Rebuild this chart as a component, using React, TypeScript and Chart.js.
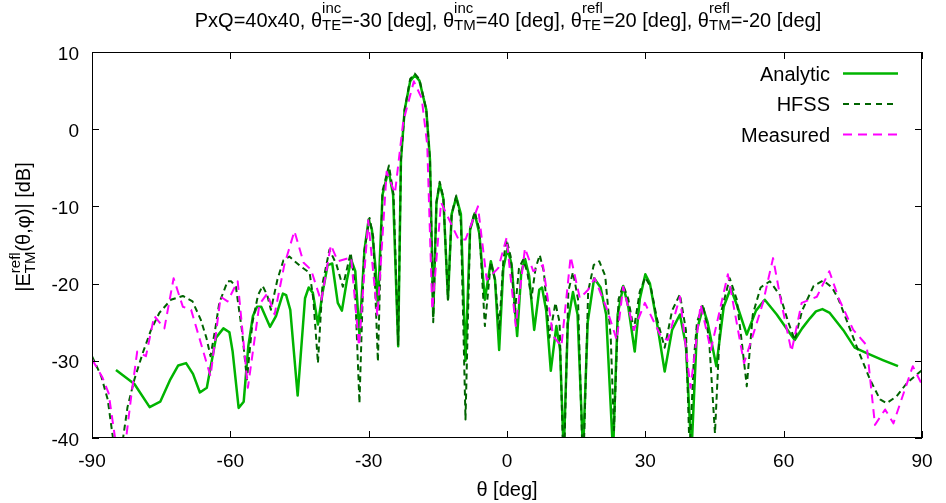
import React, { useEffect, useRef } from "react";
import { Chart, registerables } from "chart.js";
Chart.register(...registerables);

// ---------- data ----------
const analyticTheta = [-84.8,-80.8,-77.5,-75.2,-73.0,-71.3,-69.6,-68.1,-66.6,-65.1,-63.1,-61.5,-60.2,-59.5,-58.2,-57.1,-56.1,-55.1,-54.2,-53.3,-51.4,-50.1,-48.6,-47.9,-47.0,-45.4,-43.8,-43.0,-42.1,-41.0,-40.0,-38.9,-37.9,-36.7,-35.8,-34.7,-33.8,-32.9,-32.0,-30.9,-30.0,-29.3,-28.5,-28.0,-27.0,-25.7,-24.7,-23.6,-23.0,-22.2,-21.0,-20.0,-19.0,-17.5,-16.7,-16.0,-15.3,-14.6,-13.8,-12.8,-12.0,-11.0,-10.0,-9.0,-8.0,-7.0,-6.0,-4.8,-3.5,-2.6,-1.7,-0.8,0.1,1.0,2.2,3.1,3.9,4.8,5.9,7.0,7.6,8.5,9.5,10.7,11.5,12.3,13.2,14.3,15.3,16.5,17.5,18.9,20.3,21.5,23.0,24.0,25.2,26.3,27.7,28.8,30.0,31.0,32.5,34.2,35.8,37.5,38.8,40.0,41.2,42.5,43.5,45.4,47.0,48.5,50.0,52.0,54.0,55.9,58.5,61.3,62.4,64.0,65.7,67.0,68.4,70.0,72.9,75.4,78.0,81.5,84.8];
const analyticDb = [-31.2,-33.0,-36.0,-35.3,-32.4,-30.6,-30.3,-31.7,-34.1,-33.5,-27.0,-25.8,-26.3,-28.8,-36.1,-35.3,-28.1,-24.2,-23.0,-23.0,-25.6,-24.2,-21.3,-21.5,-23.4,-34.5,-21.9,-20.5,-21.2,-25.3,-21.2,-17.6,-17.4,-22.5,-23.5,-19.5,-16.9,-18.4,-26.6,-15.6,-11.7,-13.0,-18.0,-23.0,-8.5,-5.3,-8.5,-28.1,-4.0,2.5,6.2,7.0,6.3,2.5,-4.0,-24.2,-9.5,-7.1,-9.0,-22.0,-11.0,-8.8,-11.0,-30.0,-13.0,-10.9,-13.5,-22.1,-17.1,-19.5,-28.6,-18.0,-15.5,-17.5,-26.8,-18.5,-16.8,-19.0,-26.0,-20.8,-20.5,-23.5,-31.3,-25.5,-28.5,-42,-25,-21.1,-24,-42,-25,-19.3,-20.5,-24,-42,-24,-20.3,-23,-28.8,-22,-18.8,-20,-25,-31.4,-26,-24.0,-28,-42,-26,-23.1,-25,-30.7,-23,-20.6,-23,-26.6,-23.5,-22.1,-24,-26.4,-27.3,-25.8,-24.5,-23.6,-23.3,-23.8,-26.0,-28.3,-29.0,-29.9,-30.7];

const hfssTheta = [-90,-88.0,-86.6,-85.5,-84.5,-83.5,-82.3,-80.8,-79.0,-77.2,-75.4,-72.9,-70.3,-68.2,-66.4,-65.2,-64.3,-63.3,-62.4,-60.6,-59.8,-58.8,-57.5,-56.4,-55.2,-54.0,-53.0,-52.0,-51.2,-49.8,-48.5,-47.2,-44.7,-42.8,-42.0,-41.0,-40.0,-38.5,-37.0,-35.6,-33.9,-33.0,-32.0,-31.0,-29.8,-29.0,-28.0,-27.0,-25.6,-24.6,-23.6,-23.0,-22.2,-21.0,-20.0,-19.0,-17.5,-16.7,-16.0,-15.3,-14.6,-13.8,-12.8,-12.0,-11.0,-10.0,-9.0,-8.0,-7.0,-6.0,-4.8,-3.5,-2.6,-1.7,-0.8,-0.1,0.8,1.7,2.6,3.5,4.4,5.3,6.2,7.1,8.0,9.2,10.5,11.4,12.3,13.3,14.3,15.4,16.5,17.6,18.8,20.0,21.3,22.5,23.2,24.2,25.2,26.3,27.5,28.8,30.0,31.2,32.5,34.2,35.8,37.5,38.8,39.6,40.5,41.2,42.5,43.8,45.1,46.3,48.3,49.8,51.0,52.0,53.3,55.0,57.0,59.2,61.0,62.4,64.0,66.5,68.6,70.5,71.8,73.5,75.8,78.7,80.9,82.3,84.5,86.7,90];
const hfssDb = [-29.4,-32.0,-35.0,-39.8,-43,-41,-36,-32.4,-29.0,-26.0,-23.8,-22.1,-21.6,-22.3,-24.7,-27,-29.4,-26,-22.5,-19.7,-19.7,-20.4,-26,-32.4,-25,-21.5,-20.3,-21.5,-23.4,-19.5,-17,-16.5,-17.8,-18.6,-22,-30.3,-20,-15.6,-17.5,-20.4,-16.0,-20,-35.5,-16,-11.5,-14,-30.1,-8,-4.7,-8.5,-28,-4.0,2.5,6.5,7.2,6.5,2.5,-4.0,-25,-9.5,-6.8,-8.8,-22.1,-11,-8.6,-12,-37.6,-13,-10.7,-13,-25.5,-17.2,-19.5,-26,-17,-14.3,-16.5,-23.8,-18,-16.9,-18.5,-21.9,-18,-16.3,-18.5,-27,-22.5,-25,-45,-21,-18.5,-22,-45,-21,-17.6,-17.1,-19,-27,-39,-22,-20.2,-22,-26,-21,-19.2,-20.5,-24.5,-28.3,-23.5,-21.4,-26,-42,-30,-25,-22.7,-27,-39.4,-24,-19.3,-22,-28,-33.3,-24,-20.5,-19.7,-21.5,-25,-27.3,-23.5,-20.3,-19.6,-20.5,-21.9,-24.5,-28.1,-32.4,-35.0,-35.5,-34.6,-32.9,-31.2];

const measuredTheta = [-90,-87.7,-86.4,-85.0,-84.0,-83.0,-81.5,-80.2,-78.3,-76.5,-74.3,-72.3,-70.3,-68.5,-66.4,-64.3,-62.1,-60.6,-58.4,-56.2,-53.7,-52.0,-50.4,-48.3,-46.1,-44.1,-42.5,-40.3,-38.2,-36.7,-33.8,-32.1,-30.1,-28.1,-26.1,-24.3,-22.5,-20.2,-18.5,-17.3,-16.2,-14.3,-10.5,-9.0,-6.3,-4.4,-1.9,-0.1,1.9,3.9,5.7,7.8,10.0,11.8,13.8,15.8,17.6,19.0,21.5,23.8,25.2,27.5,29.9,33.5,34.9,37.5,39.8,42.0,44.2,47.9,51.4,53.7,55.5,57.7,59.5,61.7,63.9,67.2,69.9,72.0,75.1,78.0,79.8,82.0,83.8,88.0,90];
const measuredDb = [-29.8,-32.2,-34.2,-40.0,-43,-42,-34.6,-28.8,-29.4,-24.2,-25.8,-19.3,-23.0,-23.4,-27.7,-32.0,-21.7,-22.3,-19.7,-33.5,-22.7,-21.3,-24.0,-17.6,-13.2,-17.3,-18.2,-22.3,-15.0,-17.1,-16.6,-28.1,-11.8,-24.2,-5.5,-8.3,1.0,6.2,4.0,-2.0,-23.4,-9.5,-14.3,-14.3,-10.0,-19.5,-18.0,-14.1,-25.5,-15.4,-18.4,-17.6,-26.8,-28.1,-16.5,-21.9,-20.8,-19.3,-23,-27.3,-20.4,-26.0,-22.5,-27.0,-27.3,-21.7,-33.5,-22.7,-28.6,-18.8,-30.3,-26.0,-22.5,-16.7,-22.5,-28.8,-22.5,-21.7,-18.4,-22,-26.0,-28.0,-38.3,-36.3,-38.1,-30.7,-33.1];

const xTicks = [-90, -60, -30, 0, 30, 60, 90];
const yTicks = [-40, -30, -20, -10, 0, 10];
const seriesNames = ["Analytic", "HFSS", "Measured"];

// ---------- styles ----------
const FONT = '"Liberation Sans", Arial, Helvetica, sans-serif';
const GREEN = "#00b400";
const DARKGREEN = "#006400";
const MAGENTA = "#ff00ff";

type Seg = { t: string } | { sup: string; sub: string };

function segWidth(ctx: CanvasRenderingContext2D, segs: Seg[], big: number, small: number) {
  let w = 0;
  for (const s of segs) {
    if ("t" in s) {
      ctx.font = `${big}px ${FONT}`;
      w += ctx.measureText(s.t).width;
    } else {
      ctx.font = `${small}px ${FONT}`;
      w += Math.max(ctx.measureText(s.sup).width, ctx.measureText(s.sub).width);
    }
  }
  return w;
}

function drawSegs(ctx: CanvasRenderingContext2D, segs: Seg[], x: number, y: number, big: number, small: number, supUp: number, subDown: number) {
  let cx = x;
  ctx.textAlign = "left";
  ctx.textBaseline = "alphabetic";
  for (const s of segs) {
    if ("t" in s) {
      ctx.font = `${big}px ${FONT}`;
      ctx.fillText(s.t, cx, y);
      cx += ctx.measureText(s.t).width;
    } else {
      ctx.font = `${small}px ${FONT}`;
      ctx.fillText(s.sup, cx, y - supUp);
      ctx.fillText(s.sub, cx, y + subDown);
      cx += Math.max(ctx.measureText(s.sup).width, ctx.measureText(s.sub).width);
    }
  }
}

const decorPlugin = {
  id: "decor",
  afterDraw(chart: any) {
    const ctx: CanvasRenderingContext2D = chart.ctx;
    const { left, right, top, bottom } = chart.chartArea;
    const xs = chart.scales.x;
    const ys = chart.scales.y;
    ctx.save();
    ctx.strokeStyle = "#000";
    ctx.fillStyle = "#000";
    ctx.lineWidth = 1;
    // frame
    ctx.strokeRect(left + 0.5, top + 0.5, right - left - 1, bottom - top - 1);
    const TL = 7;
    ctx.beginPath();
    for (const v of xTicks) {
      const px = Math.round(xs.getPixelForValue(v)) + 0.5;
      ctx.moveTo(px, bottom);
      ctx.lineTo(px, bottom - TL);
      ctx.moveTo(px, top);
      ctx.lineTo(px, top + TL);
    }
    for (const v of yTicks) {
      const py = Math.round(ys.getPixelForValue(v)) + 0.5;
      ctx.moveTo(left, py);
      ctx.lineTo(left + TL, py);
      ctx.moveTo(right, py);
      ctx.lineTo(right - TL, py);
    }
    ctx.stroke();
    // tick labels
    ctx.font = `19px ${FONT}`;
    ctx.textBaseline = "alphabetic";
    ctx.textAlign = "center";
    for (const v of xTicks) {
      ctx.fillText(String(v), xs.getPixelForValue(v), 467);
    }
    ctx.textAlign = "right";
    for (const v of yTicks) {
      ctx.fillText(String(v), left - 13, ys.getPixelForValue(v) + 7.5);
    }
    // x axis title
    ctx.textAlign = "center";
    ctx.font = `20px ${FONT}`;
    ctx.fillText("\u03b8 [deg]", 507, 496);
    // y axis title
    const ySegs: Seg[] = [{ t: "|E" }, { sup: "refl", sub: "TM" }, { t: "(\u03b8,\u03c6)| [dB]" }];
    ctx.save();
    ctx.translate(30, 227);
    ctx.rotate(-Math.PI / 2);
    const yw = segWidth(ctx, ySegs, 20, 15);
    drawSegs(ctx, ySegs, -yw / 2, 0, 20, 15, 10, 5);
    ctx.restore();
    // title
    const tSegs: Seg[] = [
      { t: "PxQ=40x40, \u03b8" }, { sup: "inc", sub: "TE" },
      { t: "=-30 [deg], \u03b8" }, { sup: "inc", sub: "TM" },
      { t: "=40 [deg], \u03b8" }, { sup: "refl", sub: "TE" },
      { t: "=20 [deg], \u03b8" }, { sup: "refl", sub: "TM" },
      { t: "=-20 [deg]" },
    ];
    const tw = segWidth(ctx, tSegs, 20, 15);
    drawSegs(ctx, tSegs, 508 - tw / 2, 27, 20, 15, 14, 3);
    // legend
    const styles = [
      { c: GREEN, w: 2.5, d: [] as number[] },
      { c: DARKGREEN, w: 2, d: [6, 5] },
      { c: MAGENTA, w: 2, d: [9, 6] },
    ];
    const rowY = [73.5, 104, 134.5];
    for (let i = 0; i < seriesNames.length; i++) {
      ctx.font = `20px ${FONT}`;
      ctx.textAlign = "right";
      ctx.fillStyle = "#000";
      ctx.fillText(seriesNames[i], 830, rowY[i] + 7);
      ctx.beginPath();
      ctx.strokeStyle = styles[i].c;
      ctx.lineWidth = styles[i].w;
      ctx.setLineDash(styles[i].d);
      ctx.moveTo(843, rowY[i]);
      ctx.lineTo(898, rowY[i]);
      ctx.stroke();
      ctx.setLineDash([]);
    }
    ctx.restore();
  },
};

function toPts(t: number[], d: number[]) {
  return t.map((x, i) => ({ x, y: d[i] }));
}

export default function App() {
  const ref = useRef<HTMLCanvasElement | null>(null);
  useEffect(() => {
    if (!ref.current) return;
    const chart = new Chart(ref.current, {
      type: "line",
      data: {
        datasets: [
          {
            label: seriesNames[0],
            data: toPts(analyticTheta, analyticDb),
            borderColor: GREEN,
            borderWidth: 2.5,
            pointRadius: 0,
            tension: 0,
            order: 2,
          },
          {
            label: seriesNames[1],
            data: toPts(hfssTheta, hfssDb),
            borderColor: DARKGREEN,
            borderWidth: 2,
            borderDash: [6, 4],
            pointRadius: 0,
            tension: 0,
            order: 1,
          },
          {
            label: seriesNames[2],
            data: toPts(measuredTheta, measuredDb),
            borderColor: MAGENTA,
            borderWidth: 2,
            borderDash: [9, 6],
            pointRadius: 0,
            tension: 0,
            order: 0,
          },
        ],
      },
      options: {
        animation: false,
        responsive: true,
        maintainAspectRatio: false,
        layout: { padding: { left: 92, top: 52, right: 24, bottom: 65 } },
        plugins: { legend: { display: false }, tooltip: { enabled: false }, title: { display: false } },
        scales: {
          x: { type: "linear", min: -90, max: 90, display: false },
          y: { type: "linear", min: -40, max: 10, display: false },
        },
        elements: { line: { borderJoinStyle: "round" } },
      } as any,
      plugins: [decorPlugin],
    });
    return () => chart.destroy();
  }, []);
  return (
    <div style={{ position: "fixed", left: 0, top: 0, width: 946, height: 503, background: "#fff" }}>
      <canvas ref={ref} />
    </div>
  );
}
